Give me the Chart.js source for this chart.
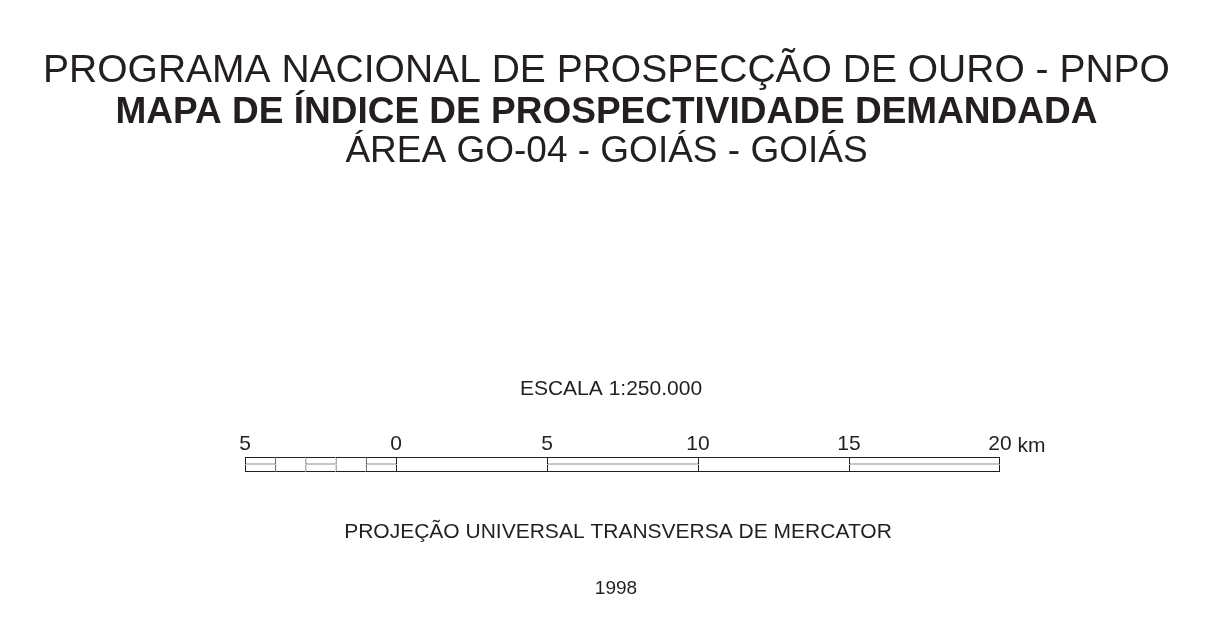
<!DOCTYPE html>
<html>
<head>
<meta charset="utf-8">
<script src="https://cdn.jsdelivr.net/npm/chart.js@4.4.1/dist/chart.umd.min.js"></script>
<style>
  html, body { margin: 0; padding: 0; background: #fff; }
  #wrap { width: 1213px; height: 637px; }
</style>
</head>
<body>
<div id="wrap"><canvas id="scaleChart" width="1213" height="637"></canvas></div>
<script>
// scale bar: segment edges in km, and which segments carry the middle line
const segmentEdges = [-5, -4, -3, -2, -1, 0, 5, 10, 15, 20];
const segmentSplit = [true, false, true, false, true, false, true, false, true];
const tickValues = [-5, 0, 5, 10, 15, 20];
const tickLabels = ['5', '0', '5', '10', '15', '20'];
const unitLabel = 'km';
// two bar rows, plus two empty rows under them so the top axis gets room
const rows = ['upper', 'lower', 'pad1', 'pad2'];

const titleLines = [
  'PROGRAMA NACIONAL DE PROSPECÇÃO DE OURO - PNPO',
  'MAPA DE ÍNDICE DE PROSPECTIVIDADE DEMANDADA',
  'ÁREA GO-04 - GOIÁS - GOIÁS'
];
const scaleCaption = 'ESCALA 1:250.000';
const projectionCaption = 'PROJEÇÃO UNIVERSAL TRANSVERSA DE MERCATOR';
const yearCaption = '1998';

const ink = '#231f20';
const fontFamily = '"Liberation Sans", Arial, Helvetica, sans-serif';
Chart.defaults.font.family = fontFamily;

function rowData(row) {
  return segmentSplit.map((split, i) => ({
    x: [segmentEdges[i], segmentEdges[i + 1]],
    y: row,
    split: split
  }));
}

// upper row draws the middle line only on split segments
function rowBorder(row) {
  return ctx => {
    const seg = ctx.raw;
    if (!seg || !seg.x) return 1;
    const last = seg.x[1] === segmentEdges[segmentEdges.length - 1] ? 1 : 0;
    if (row === 'upper') {
      return { top: 1, left: 1, right: last, bottom: seg.split ? 1 : 0 };
    }
    return { top: 0, left: 1, right: last, bottom: 1 };
  };
}

const sheetText = {
  id: 'sheetText',
  afterDraw(chart) {
    const c = chart.ctx;
    c.save();
    c.fillStyle = ink;
    c.textAlign = 'center';
    c.textBaseline = 'alphabetic';

    c.font = '39px ' + fontFamily;
    c.fillText(titleLines[0], 606.5, 82);
    c.font = 'bold 37px ' + fontFamily;
    c.fillText(titleLines[1], 606.5, 123);
    c.font = '37px ' + fontFamily;
    c.fillText(titleLines[2], 606.5, 162);

    c.font = '21px ' + fontFamily;
    c.fillText(scaleCaption, 611, 395);
    c.fillText(projectionCaption, 618, 538);
    c.font = '19px ' + fontFamily;
    c.fillText(yearCaption, 616, 594);

    // unit after the last tick label
    const x = chart.scales.x;
    const lastVal = tickValues[tickValues.length - 1];
    c.font = '21px ' + fontFamily;
    const w = c.measureText(tickLabels[tickLabels.length - 1]).width;
    c.textAlign = 'left';
    c.fillText(' ' + unitLabel, x.getPixelForValue(lastVal) + w / 2, 452);
    c.restore();
  }
};

new Chart(document.getElementById('scaleChart'), {
  type: 'bar',
  data: {
    labels: rows,
    datasets: ['upper', 'lower'].map(row => ({
      label: row,
      data: rowData(row),
      backgroundColor: '#ffffff',
      borderColor: ink,
      borderWidth: rowBorder(row),
      borderSkipped: false,
      inflateAmount: 0,
      grouped: false,
      barPercentage: 1,
      categoryPercentage: 1
    }))
  },
  options: {
    indexAxis: 'y',
    responsive: false,
    animation: false,
    layout: { padding: { top: 431.8, bottom: 150, left: 245, right: 213 } },
    plugins: {
      legend: { display: false },
      tooltip: { enabled: false },
      title: { display: false }
    },
    scales: {
      x: {
        type: 'linear',
        position: 'top',
        min: tickValues[0],
        max: tickValues[tickValues.length - 1],
        grid: { display: false, drawTicks: false },
        border: { display: false },
        afterBuildTicks: s => { s.ticks = tickValues.map(v => ({ value: v })); },
        ticks: {
          padding: 0,
          color: ink,
          autoSkip: false,
          maxRotation: 0,
          font: { size: 21 },
          callback: (v, i) => tickLabels[i]
        }
      },
      y: { display: false }
    }
  },
  plugins: [sheetText]
});
</script>
</body>
</html>
